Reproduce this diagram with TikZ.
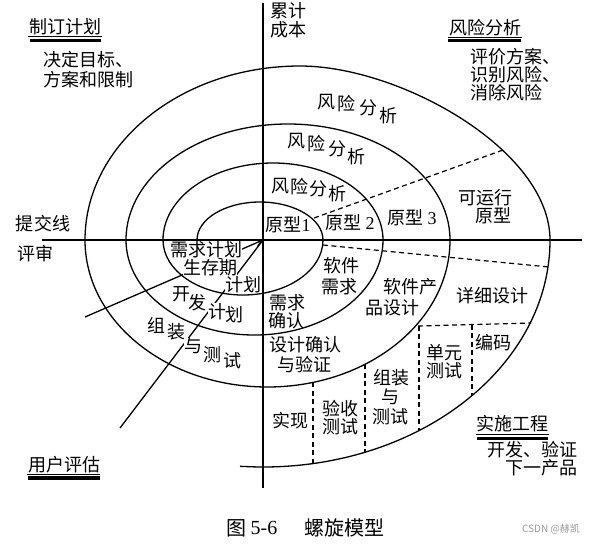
\documentclass[tikz,border=0pt]{standalone}
\usepackage{fontspec}
\setmainfont{Liberation Serif}
\newfontfamily\cjk{Noto Sans CJK SC}
\newfontfamily\lat{Liberation Serif}
\usetikzlibrary{arrows.meta}
\begin{document}
\begin{tikzpicture}[x=1pt,y=-1pt,
  lbl/.style={font=\cjk\fontsize{18}{20}\selectfont, inner sep=0pt},
  wlbl/.style={lbl, fill=white, inner sep=0.3pt},
  curve/.style={line width=1.3pt},
  axis/.style={line width=1.3pt},
  dsh/.style={line width=1.2pt, dash pattern=on 5pt off 3.5pt},
  ulthin/.style={line width=0.7pt},
  ulthick/.style={line width=3.2pt}]
\fill[white] (0,0) rectangle (601,544);
\useasboundingbox (0,0) rectangle (601,544);

% review lines from lower left to the centre
\coordinate (O) at (263,240);
\coordinate (l1s) at (85,317);
\coordinate (l2s) at (120,428);
\draw[curve, -{Straight Barb[length=6pt,width=7pt]}] (l1s) -- (O);
\draw[curve] (l2s) -- (O);

% labels lying on the review lines
\node[wlbl] (xqjh) at (206,249.5) {需求计划};
\node[wlbl] (scq) at (210,268) {生存期};
\node[wlbl] (scqjh) at (243,285) {计划};
\node[wlbl] (kf1) at (181,294) {开};
\node[wlbl] (kf2) at (197,303) {发};
\node[wlbl] (kfj1) at (217,312) {计};
\node[wlbl] (kfj2) at (234,315) {划};
\node[wlbl] (zz1) at (156,325) {组};
\node[wlbl] (zz2) at (176,332) {装};
\node[wlbl] (zz3) at (193,346) {与};
\node[wlbl] (zz4) at (212,355) {测};
\node[wlbl] (zz5) at (232,361) {试};

% the spiral
\draw[curve] (197,240) .. controls (197,219) and (225.2,202) .. (260,202)
  .. controls (294.8,202) and (323,219) .. (323,240)
  .. controls (323,270.4) and (287.2,295) .. (243,295)
  .. controls (198.8,295) and (163,270.4) .. (163,240)
  .. controls (163,197.5) and (212.2,163) .. (273,163)
  .. controls (333.8,163) and (383,197.5) .. (383,240)
  .. controls (383,292.5) and (325.5,335) .. (254.5,335)
  .. controls (183.5,335) and (126,292.5) .. (126,240)
  .. controls (126,175.9) and (198.5,124) .. (288,124)
  .. controls (377.5,124) and (450,175.9) .. (450,240)
  .. controls (450,321.2) and (368.3,387) .. (267.5,387)
  .. controls (166.7,387) and (85,321.2) .. (85,240)
  .. controls (85,143.9) and (181.3,66) .. (300,66)
  .. controls (400,66) and (550,150) .. (550,240)
  .. controls (550,365.4) and (421.5,467) .. (263,467)
  .. controls (255,467) and (247,466.6) .. (240,466.3);

% axes
\coordinate (vt) at (263,3);
\coordinate (vb) at (263,488);
\coordinate (hl) at (42,240);
\coordinate (hr) at (582,240);
\draw[axis] (vt) -- (vb);
\draw[axis] (hl) -- (hr);

% dashed dividers
\coordinate (d1a) at (314,218);
\coordinate (d1b) at (503,150);
\coordinate (d2a) at (323,245);
\coordinate (d2b) at (549,267);
\coordinate (d3a) at (418,326);
\coordinate (d3b) at (531,323);
\draw[dsh] (d1a) -- (d1b);
\draw[dsh] (d2a) -- (d2b);
\draw[dsh] (d3a) -- (d3b);
\coordinate (v1a) at (313,382);  \coordinate (v1b) at (313,463.6);
\coordinate (v2a) at (365,364.3);\coordinate (v2b) at (365,452.2);
\coordinate (v3a) at (419,325.8);\coordinate (v3b) at (419,430.5);
\coordinate (v4a) at (472,324.5);\coordinate (v4b) at (472,395.6);
\draw[dsh] (v1a) -- (v1b);
\draw[dsh] (v2a) -- (v2b);
\draw[dsh] (v3a) -- (v3b);
\draw[dsh] (v4a) -- (v4b);

% corner headings
\node[lbl] (zd) at (65,27) {制订计划};
\draw[ulthin] (28,36) -- (102,36);
\draw[ulthick] (30,40.5) -- (101,40.5);
\node[lbl, anchor=west] (zd1) at (43,60) {决定目标、};
\node[lbl, anchor=west] (zd2) at (43,80) {方案和限制};

\node[lbl, anchor=west] (lj1) at (270,11) {累计};
\node[lbl, anchor=west] (lj2) at (270,30) {成本};

\node[lbl] (fx) at (485,28) {风险分析};
\draw[ulthin] (448,37) -- (522,37);
\draw[ulthick] (448,40.5) -- (521,40.5);
\node[lbl, anchor=west] (fx1) at (470,57) {评价方案、};
\node[lbl, anchor=west] (fx2) at (470,75) {识别风险、};
\node[lbl, anchor=west] (fx3) at (470,93) {消除风险};

\node[lbl] (tj) at (43,224) {提交线};
\node[lbl] (ps) at (35,254) {评审};

\node[lbl] (ss) at (512,424) {实施工程};
\draw[ulthin] (476,434) -- (549,434);
\draw[ulthick] (477,438.5) -- (548,438.5);
\node[lbl, anchor=east] (ss1) at (578,450) {开发、验证};
\node[lbl, anchor=east] (ss2) at (578,468) {下一产品};

\node[lbl] (yh) at (64,465) {用户评估};
\draw[ulthin] (27,474) -- (100,474);
\draw[ulthick] (28,478) -- (100,478);

% risk analysis labels along the arcs
\node[lbl] (ra1) at (326,102) {风};
\node[lbl] (ra2) at (346,104) {险};
\node[lbl] (ra3) at (368,108) {分};
\node[lbl] (ra4) at (388,116) {析};
\node[lbl] (rb1) at (296,141) {风};
\node[lbl] (rb2) at (316,144) {险};
\node[lbl] (rb3) at (337,149) {分};
\node[lbl] (rb4) at (356,157) {析};
\node[lbl] (rc1) at (280,186) {风};
\node[lbl] (rc2) at (299,187) {险};
\node[lbl] (rc3) at (318,189) {分};
\node[lbl] (rc4) at (337,194) {析};

% prototypes
\node[lbl] (p1) at (288,225) {原型{\lat 1}};
\node[lbl] (p2) at (350,223) {原型 {\lat 2}};
\node[lbl] (p3) at (412,218) {原型 {\lat 3}};
\node[lbl] (ky1) at (485,198) {可运行};
\node[lbl] (ky2) at (493,216) {原型};

% lower right quadrant
\node[lbl] (rx1) at (341,266) {软件};
\node[lbl] (rx2) at (339,287) {需求};
\node[lbl] (rc1b) at (410,287) {软件产};
\node[lbl] (rc2b) at (392,308) {品设计};
\node[lbl] (xx) at (492,296) {详细设计};
\node[lbl] (bm) at (493,343) {编码};
\node[lbl] (dy1) at (444,353) {单元};
\node[lbl] (dy2) at (444,371) {测试};
\node[lbl] (zc1) at (391,378) {组装};
\node[lbl] (zc2) at (390,397) {与};
\node[lbl] (zc3) at (390,417) {测试};
\node[lbl] (ys1) at (340,409) {验收};
\node[lbl] (ys2) at (340,427) {测试};
\node[lbl] (sx) at (290,421) {实现};
\node[lbl] (qr1) at (287,303) {需求};
\node[lbl] (qr2) at (286,321) {确认};
\node[lbl] (sj1) at (305,345) {设计确认};
\node[lbl] (sj2) at (304,365) {与验证};

% caption and watermark
\node[lbl, font=\cjk\fontsize{20}{22}\selectfont] (cap1) at (236,528) {图};
\node[inner sep=0pt, font=\lat\fontsize{20}{22}\selectfont] (cap2) at (264,528) {5-6};
\node[lbl, font=\cjk\fontsize{20}{22}\selectfont] (cap3) at (344,528) {螺旋模型};
\node[inner sep=0pt, text=gray!80, font=\cjk\fontsize{10}{12}\selectfont] (wm) at (551,529) {CSDN @赫凯};
\end{tikzpicture}
\end{document}
